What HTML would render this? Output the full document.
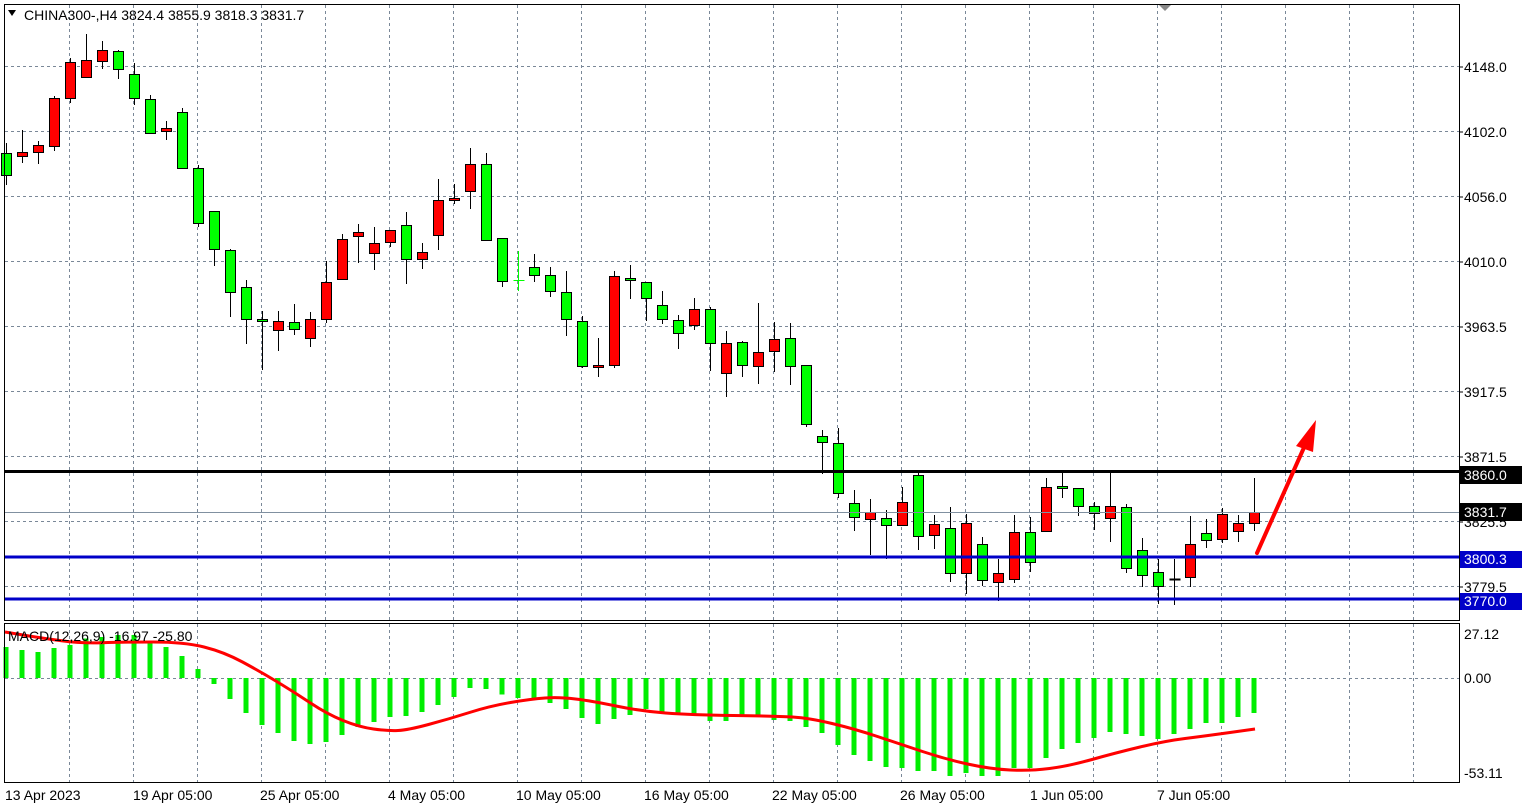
<!DOCTYPE html>
<html><head><meta charset="utf-8"><style>
html,body{margin:0;padding:0;background:#fff;width:1524px;height:811px;overflow:hidden}
svg{display:block}
text{font-family:"Liberation Sans",sans-serif;font-size:14px;fill:#000}
</style></head><body>
<svg id="s" width="1524" height="811" xmlns="http://www.w3.org/2000/svg">
<rect x="0" y="0" width="1524" height="811" fill="#fff"/>
<g id="grid"></g>
<g id="macd"></g>
<g id="candles"></g>
<line x1="4" y1="512.5" x2="1459" y2="512.5" stroke="#8090a0" stroke-width="1"/>
<line x1="4" y1="471.5" x2="1459" y2="471.5" stroke="#000" stroke-width="3"/>
<line x1="4" y1="557" x2="1459" y2="557" stroke="#0000c8" stroke-width="3"/>
<line x1="4" y1="599" x2="1459" y2="599" stroke="#0000c8" stroke-width="3"/>
<line x1="1257" y1="553" x2="1306" y2="443" stroke="#ff0000" stroke-width="4" stroke-linecap="round"/>
<polygon points="1316,420 1296,446 1313,452" fill="#ff0000"/>
<rect x="4.5" y="4.5" width="1455" height="616" fill="none" stroke="#000" stroke-width="1"/>
<rect x="4.5" y="623.5" width="1455" height="159" fill="none" stroke="#000" stroke-width="1"/>
<polygon points="1159,5 1171,5 1165,11" fill="#888"/>
<polygon points="8,10 16,10 12,16" fill="#000"/>
<text x="24" y="20">CHINA300-,H4  3824.4 3855.9 3818.3 3831.7</text>
<text x="8" y="641">MACD(12,26,9) -16.97 -25.80</text>
<g id="ax"></g>
<rect x="1460" y="466" width="62" height="18" fill="#000"/>
<text x="1464" y="480" style="fill:#fff">3860.0</text>
<rect x="1460" y="503" width="62" height="18" fill="#000"/>
<text x="1464" y="517" style="fill:#fff">3831.7</text>
<rect x="1460" y="551" width="62" height="17" fill="#0000c8"/>
<text x="1464" y="564" style="fill:#fff">3800.3</text>
<rect x="1460" y="593" width="62" height="17" fill="#0000c8"/>
<text x="1464" y="606" style="fill:#fff">3770.0</text>
<text x="1464" y="639">27.12</text>
<text x="1464" y="683">0.00</text>
<text x="1464" y="778">-53.11</text>
<text x="5" y="800">13 Apr 2023</text>
<text x="133" y="800">19 Apr 05:00</text>
<text x="260" y="800">25 Apr 05:00</text>
<text x="388" y="800">4 May 05:00</text>
<text x="516" y="800">10 May 05:00</text>
<text x="644" y="800">16 May 05:00</text>
<text x="772" y="800">22 May 05:00</text>
<text x="900" y="800">26 May 05:00</text>
<text x="1030" y="800">1 Jun 05:00</text>
<text x="1157" y="800">7 Jun 05:00</text>
<text x="1464" y="72">4148.0</text>
<text x="1464" y="137">4102.0</text>
<text x="1464" y="202">4056.0</text>
<text x="1464" y="267">4010.0</text>
<text x="1464" y="332">3963.5</text>
<text x="1464" y="397">3917.5</text>
<text x="1464" y="462">3871.5</text>
<text x="1464" y="527">3825.5</text>
<text x="1464" y="592">3779.5</text>
</svg>
<script>
var NS="http://www.w3.org/2000/svg";
function el(p,t,a){var e=document.createElementNS(NS,t);for(var k in a)e.setAttribute(k,a[k]);p.appendChild(e);return e;}
var g=document.getElementById('grid');
var gc="#7a8898";
for(var x=69.5;x<1459;x+=64){el(g,'line',{x1:x,y1:5,x2:x,y2:620,stroke:gc,'stroke-dasharray':'3,3'});el(g,'line',{x1:x,y1:624,x2:x,y2:782,stroke:gc,'stroke-dasharray':'3,3'});}
for(var y=66.5;y<620;y+=65){el(g,'line',{x1:5,y1:y,x2:1459,y2:y,stroke:gc,'stroke-dasharray':'3,3'});}
el(g,'line',{x1:5,y1:678.5,x2:1459,y2:678.5,stroke:gc,'stroke-dasharray':'3,3'});
var ax=document.getElementById('ax');
[67,132,197,262,327,392,457,522,587].forEach(function(y){el(ax,'line',{x1:1459,y1:y,x2:1463,y2:y,stroke:'#000'});});
var C=[
['g',143,185,153,175],['r',130,163,152,156],['r',141,164,145,152],['r',96,151,98,146],['r',58,103,62,98],
['r',34,77,60,77],['r',41,69,50,61],['g',50,79,51,69],['g',63,105,74,98],['g',95,134,99,133],
['r',121,140,128,131],['g',108,168,112,168],['g',165,227,168,223],['g',211,266,211,249],['g',249,317,250,292],
['g',280,344,287,319],['g',311,370,319,321],['r',311,351,321,330],['g',304,335,322,329],['r',312,347,319,338],
['r',261,323,282,319],['r',234,279,239,279],['r',224,263,232,236],['r',227,270,243,253],['r',230,247,230,242],
['g',212,284,225,259],['r',243,269,252,259],['r',179,250,200,235],['r',184,204,198,200],['r',148,209,164,191],
['g',153,241,164,240],['g',238,287,238,281],['x',251,291,280,280],['g',254,282,267,275],['g',267,297,275,291],
['g',271,336,292,319],['g',316,368,321,366],['r',338,377,365,367],['r',271,368,276,365],['g',265,299,278,280],
['g',282,321,282,298],['g',291,324,305,319],['g',315,349,320,333],['r',298,330,309,325],['g',307,371,309,343],
['r',331,397,343,373],['g',341,377,342,365],['r',303,384,352,366],['r',322,372,339,351],['g',323,385,338,366],
['g',365,427,365,424],['g',430,474,436,442],['g',428,498,443,493],['g',490,531,503,517],['r',499,555,512,519],
['g',510,559,518,525],['r',487,525,502,525],['g',473,550,475,536],['r',515,549,524,535],['g',507,582,528,573],
['r',514,594,523,573],['g',537,586,544,580],['r',559,601,573,582],['r',515,583,532,579],['g',517,572,532,562],
['r',478,531,487,531],['g',473,498,486,488],['g',488,516,488,506],['g',502,530,506,513],['r',473,542,506,518],
['g',504,573,507,568],['g',538,587,550,575],['g',559,604,572,586],['k',559,605,579,579],['r',516,587,544,577],
['g',519,548,533,540],['r',508,543,514,539],['r',515,542,523,531],['r',478,531,512,523]];
var cg=document.getElementById('candles');
C.forEach(function(c,i){
 var cx=Math.round(5.5+16*i)+0.5;
 if(c[0]=='x'){el(cg,'line',{x1:cx,y1:c[1],x2:cx,y2:c[2],stroke:'#00ff00'});el(cg,'line',{x1:cx-5,y1:c[3]+.5,x2:cx+6,y2:c[3]+.5,stroke:'#00ff00'});return;}
 el(cg,'line',{x1:cx,y1:c[1],x2:cx,y2:c[2],stroke:'#000'});
 if(c[0]=='k'){el(cg,'line',{x1:cx-5,y1:c[3]+.5,x2:cx+6,y2:c[3]+.5,stroke:'#000','stroke-width':2});return;}
 var h=Math.max(c[4]-c[3],2);
 el(cg,'rect',{x:cx-5,y:c[3]+.5,width:10,height:h,fill:c[0]=='g'?'#00ff00':'#ff0000',stroke:'#000','stroke-width':1});
});
var H=[647,650,652,648,645,638.5,637,635,635,643.5,647,656,669,684,699,713,725,733,741,744,742,735,727,722,717,716,712,705,697,688,689,694.5,698,698,703,709,718,724,719,715,
709,712,715,715,721,721,717,715,720,721,727,733,745,755,761,767,768,771,771,776,773,776,776,768,768,758,749,743,738,732,734,736,739,734,729,723,723,717,713];
var mg=document.getElementById('macd');
H.forEach(function(v,i){var cx=5.5+16*i;var t=Math.min(v,678),b=Math.max(v,678);
 el(mg,'rect',{x:cx-2,y:t,width:5,height:b-t,fill:'#00ee00'});});
var P=[[5,632],[41,638],[82,643.5],[122,642],[184,642],[224,652],[261,672],[294,692],[327,714],[359,727],[388,731],[408,730],[449,719],[490,706],[531,699],[559,697],[592,701],[640,711],[691,715],[776,716],[809,718],[855,729],[900,744],[945,759],[990,769],[1030,771],[1069,766],[1115,753],[1165,741],[1205,736],[1255,729]];
var d="M"+P[0][0]+","+P[0][1];
for(var i=1;i<P.length;i++){var p0=P[i-1],p1=P[i];var mx=(p0[0]+p1[0])/2;d+=" Q"+p0[0]+","+p0[1]+" "+mx+","+((p0[1]+p1[1])/2);}
d+=" L"+P[P.length-1][0]+","+P[P.length-1][1];
el(mg,'path',{d:d,fill:'none',stroke:'#ff0000','stroke-width':3});
</script>
</body></html>
